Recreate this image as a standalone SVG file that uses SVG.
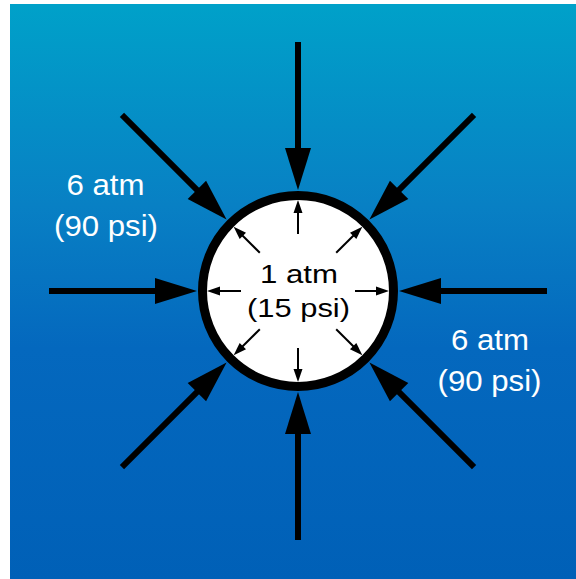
<svg xmlns="http://www.w3.org/2000/svg" xmlns:xlink="http://www.w3.org/1999/xlink" width="576" height="579" viewBox="0 0 576 579">
<defs>
<linearGradient id="bg" x1="0" y1="0" x2="0" y2="1">
<stop offset="0" stop-color="#00a1c9"/>
<stop offset="0.35" stop-color="#0880c4"/>
<stop offset="0.6" stop-color="#0468be"/>
<stop offset="1" stop-color="#0060b7"/>
</linearGradient>
<g id="outer">
<line x1="0" y1="-249" x2="0" y2="-138" stroke="#000" stroke-width="6"/>
<polygon points="-13,-143 13,-143 0,-101" fill="#000"/>
</g>
<g id="innerS">
<line x1="0" y1="-57" x2="0" y2="-80" stroke="#000" stroke-width="2"/>
<polygon points="-4.5,-78 4.5,-78 0,-91" fill="#000"/>
</g>
<g id="innerD">
<line x1="0" y1="-54" x2="0" y2="-80" stroke="#000" stroke-width="2"/>
<polygon points="-4.5,-78 4.5,-78 0,-91" fill="#000"/>
</g>
</defs>
<style>
.lbl{font-family:"Liberation Sans",Arial,sans-serif;text-anchor:middle}
.out{fill:#fff;font-size:30px}
.in{fill:#000;font-size:25.5px}
</style>
<rect x="0" y="0" width="576" height="579" fill="#fff"/>
<rect x="10" y="4" width="566" height="575" fill="url(#bg)"/>
<g id="vessel">
<circle cx="298" cy="291" r="95.5" fill="#fff" stroke="#000" stroke-width="9"/>
</g>
<g id="connectors" transform="translate(298,291)">
<use xlink:href="#outer" transform="rotate(0)"/>
<use xlink:href="#outer" transform="rotate(45)"/>
<use xlink:href="#outer" transform="rotate(90)"/>
<use xlink:href="#outer" transform="rotate(135)"/>
<use xlink:href="#outer" transform="rotate(180)"/>
<use xlink:href="#outer" transform="rotate(225)"/>
<use xlink:href="#outer" transform="rotate(270)"/>
<use xlink:href="#outer" transform="rotate(315)"/>
<use xlink:href="#innerS" transform="rotate(0)"/>
<use xlink:href="#innerD" transform="rotate(45)"/>
<use xlink:href="#innerS" transform="rotate(90)"/>
<use xlink:href="#innerD" transform="rotate(135)"/>
<use xlink:href="#innerS" transform="rotate(180)"/>
<use xlink:href="#innerD" transform="rotate(225)"/>
<use xlink:href="#innerS" transform="rotate(270)"/>
<use xlink:href="#innerD" transform="rotate(315)"/>
</g>
<g id="label-inside" class="lbl in">
<text x="299" y="283" textLength="78" lengthAdjust="spacingAndGlyphs">1 atm</text>
<text x="298.5" y="317" textLength="103" lengthAdjust="spacingAndGlyphs">(15 psi)</text>
</g>
<g id="label-left" class="lbl out">
<text x="105.5" y="195" textLength="78" lengthAdjust="spacingAndGlyphs">6 atm</text>
<text x="106" y="236" textLength="104" lengthAdjust="spacingAndGlyphs">(90 psi)</text>
</g>
<g id="label-right" class="lbl out">
<text x="490" y="350" textLength="78" lengthAdjust="spacingAndGlyphs">6 atm</text>
<text x="489.5" y="391" textLength="104" lengthAdjust="spacingAndGlyphs">(90 psi)</text>
</g>
</svg>
